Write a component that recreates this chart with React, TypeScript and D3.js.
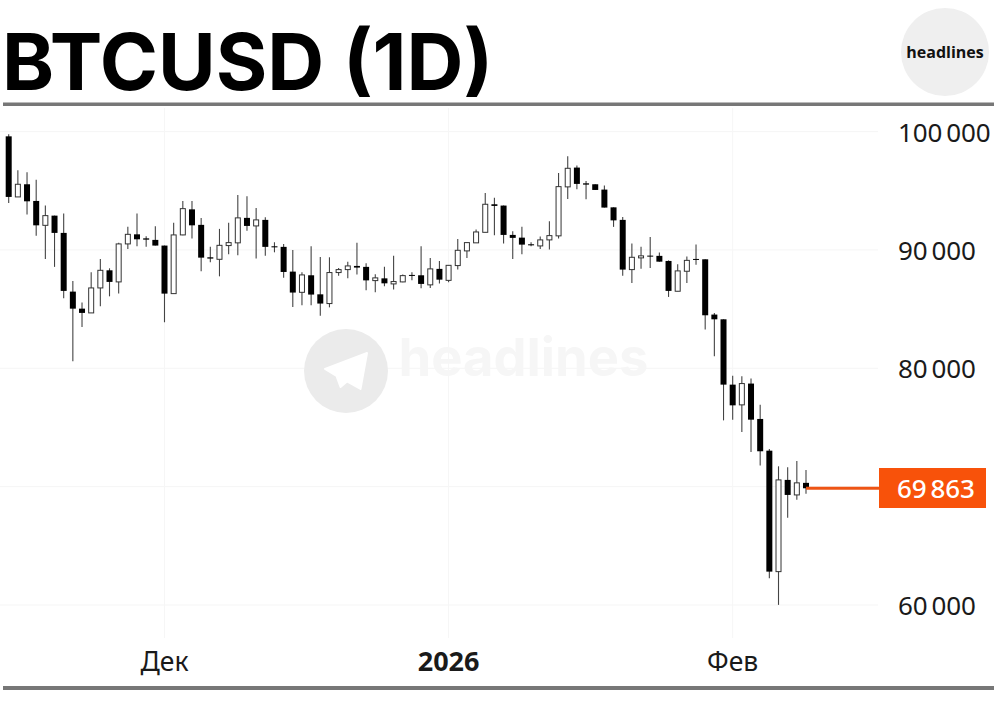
import * as d3 from 'd3';
import React, { useRef, useEffect } from 'react';

// Daily candles, first one is 14 Nov 2025, last one 9 Feb 2026
const opens = [99600,94480,95550,94140,92080,92900,91440,86480,85040,84680,86790,88280,87300,90510,91320,90980,90850,90370,86310,91270,93430,92120,89380,89210,90370,90600,92710,92030,92540,90310,90260,88170,86420,87860,86250,85470,88090,88340,88650,88570,87410,87600,87130,87300,87890,87860,87050,88400,87430,88680,89920,90600,91490,93860,93750,91270,91040,90480,90340,90850,91190,95330,96960,95630,95550,95100,93600,92540,88340,89330,89520,89500,89070,86510,88200,89240,89210,84540,84140,78620,76910,78710,75720,73040,62820,70570,69300,70320];
const closes = [94480,95550,94110,92080,92900,91440,86540,85040,84680,86790,88280,87300,90510,91320,90900,90870,90370,86310,91270,93490,92080,89350,89270,90390,90620,92710,92030,92540,90260,90220,88140,86400,87890,86230,85470,88090,88340,88650,88510,87430,87640,87180,87330,87830,87810,87130,88400,87490,88700,89970,90620,91520,93860,93720,91270,91020,90450,90390,90850,91210,95350,96900,95580,95520,95070,93580,92500,88340,89380,89500,89440,89010,86540,88230,89120,89160,84480,84140,78620,76870,78710,75660,72990,62820,70570,69300,70320,69863];
const highs = [99770,96730,96560,95940,93750,92900,93070,87380,85550,88110,89240,88450,90600,91950,93070,91150,92000,90370,92290,94140,94140,92710,90280,91780,92290,94650,94530,93550,92760,90650,90510,90000,88110,90310,89410,89380,88480,89010,90600,88870,87940,88570,89500,87920,88110,90310,89330,89070,88700,90930,90620,91720,94820,94420,93750,91580,91950,90650,91130,92420,96510,97910,97130,95830,95550,95440,93600,92790,90540,90280,91100,89780,89120,88790,89440,90450,89210,84680,84140,79380,79320,79130,76910,73190,71720,71630,72170,71410];
const lows = [93975,94480,92990,91190,89240,88570,85910,80590,83500,84680,85240,86080,86310,90090,90310,90260,90370,83890,86310,91240,90960,88200,88960,87770,89630,89550,91630,89270,89520,89800,87660,85190,85320,85320,84450,85150,87830,87600,87920,86590,86420,86930,86650,87270,87430,86760,86790,87160,87270,88340,89330,90600,91490,91240,90540,89240,89630,90310,90090,90030,90960,94310,95120,94280,95070,93580,91950,87830,87210,88420,88480,89010,86030,86510,87210,88760,83270,81010,75600,75660,74620,72930,71780,62250,60010,67380,68900,69390];

const priceTicks = [60000, 70000, 80000, 90000, 100000];
const priceLabels = [60000, 80000, 90000, 100000];
const monthTicks = [
  { index: 17, label: 'Дек', bold: false },
  { index: 48, label: '2026', bold: true },
  { index: 79, label: 'Фев', bold: false },
];
const lastPrice = 69863;

const WIDTH = 1000;
const HEIGHT = 713;
const FONT = '"Noto Sans", sans-serif';

export default function App() {
  const svgRef = useRef<SVGSVGElement | null>(null);

  useEffect(() => {
    if (!svgRef.current) return;
    const svg = d3.select(svgRef.current);
    svg.selectAll('*').remove();
    document.body.style.margin = '0';

    const x = d3.scaleLinear().domain([0, opens.length - 1]).range([8.7, 806]);
    const y = d3.scaleLinear().domain([60000, 100000]).range([605, 131.6]);
    const fmt = d3.formatLocale({ decimal: '.', thousands: '\u2009', grouping: [3], currency: ['', ''] }).format(',d');

    svg.append('rect').attr('width', WIDTH).attr('height', HEIGHT).attr('fill', '#fff');

    // grid
    svg.append('g').selectAll('line').data(priceTicks).enter().append('line')
      .attr('x1', 0).attr('x2', 878)
      .attr('y1', (d) => y(d)).attr('y2', (d) => y(d))
      .attr('stroke', '#f5f5f5').attr('stroke-width', 1);
    svg.append('g').selectAll('line').data(monthTicks).enter().append('line')
      .attr('x1', (d) => x(d.index)).attr('x2', (d) => x(d.index))
      .attr('y1', 108).attr('y2', 638)
      .attr('stroke', '#f6f6f6').attr('stroke-width', 1);

    // watermark
    const mark = svg.append('g').attr('transform', 'translate(346,371)');
    mark.append('circle').attr('r', 42).attr('fill', '#ebebeb');
    mark.append('path')
      .attr('d', 'M21,-18 L-21,-2 L-9.5,5 L-5.5,16 L1,10.5 L14.5,18 Z')
      .attr('fill', '#fff').attr('stroke', '#fff').attr('stroke-width', 2).attr('stroke-linejoin', 'round');
    svg.append('text').text('headlines')
      .attr('x', 398.5).attr('y', 376)
      .attr('font-family', 'Inter, sans-serif').attr('font-weight', 700).attr('font-size', 52.5)
      .attr('fill', '#f6f6f6');

    // candles
    const candles = svg.append('g').selectAll('g').data(d3.range(opens.length)).enter().append('g');
    candles.append('line')
      .attr('x1', (i) => x(i)).attr('x2', (i) => x(i))
      .attr('y1', (i) => y(highs[i])).attr('y2', (i) => y(lows[i]))
      .attr('stroke', '#444').attr('stroke-width', 1.1);
    candles.append('rect')
      .attr('x', (i) => x(i) - (closes[i] > opens[i] ? 2.5 : 3))
      .attr('width', (i) => (closes[i] > opens[i] ? 5 : 6))
      .attr('y', (i) => y(Math.max(opens[i], closes[i])))
      .attr('height', (i) => Math.max(1, Math.abs(y(opens[i]) - y(closes[i]))))
      .attr('fill', (i) => (closes[i] > opens[i] ? '#fff' : '#000'))
      .attr('stroke', (i) => (closes[i] > opens[i] ? '#333' : 'none'))
      .attr('stroke-width', 1);

    // price axis
    svg.append('g').selectAll('text').data(priceLabels).enter().append('text')
      .text((d) => fmt(d))
      .attr('x', 898).attr('y', (d) => y(d) + 10)
      .attr('font-family', FONT).attr('font-size', 26).attr('letter-spacing', -0.15).attr('fill', '#1a1a1a');

    // time axis
    svg.append('g').selectAll('text').data(monthTicks).enter().append('text')
      .text((d) => d.label)
      .attr('x', (d) => x(d.index)).attr('y', 671)
      .attr('text-anchor', 'middle')
      .attr('font-family', FONT).attr('font-size', (d) => (d.bold ? 27 : 26.5))
      .attr('font-weight', (d) => (d.bold ? 700 : 400)).attr('fill', '#1a1a1a');

    // last price
    svg.append('line')
      .attr('x1', x(opens.length - 1)).attr('x2', 880)
      .attr('y1', y(lastPrice)).attr('y2', y(lastPrice))
      .attr('stroke', '#ee5414').attr('stroke-width', 2.8);
    svg.append('rect')
      .attr('x', 879).attr('y', 468).attr('width', 107).attr('height', 40)
      .attr('fill', '#f8520a');
    svg.append('text').text(fmt(lastPrice))
      .attr('x', 897).attr('y', 498)
      .attr('font-family', FONT).attr('font-size', 26).attr('font-weight', 500).attr('letter-spacing', -0.15).attr('fill', '#fff');

    // header and rules
    svg.append('text').text('BTCUSD (1D)')
      .attr('x', 2).attr('y', 90)
      .attr('font-family', 'Inter, sans-serif').attr('font-weight', 700).attr('font-size', 78.8)
      .attr('fill', '#000');
    svg.append('circle').attr('cx', 945).attr('cy', 52).attr('r', 44).attr('fill', '#efefef');
    svg.append('text').text('headlines')
      .attr('x', 945).attr('y', 58)
      .attr('text-anchor', 'middle')
      .attr('font-family', '"Open Sans", sans-serif').attr('font-weight', 700).attr('font-size', 16)
      .attr('fill', '#111');
    svg.append('rect').attr('x', 3).attr('y', 102.5).attr('width', 991).attr('height', 3.5).attr('fill', '#777');
    svg.append('rect').attr('x', 3).attr('y', 686).attr('width', 991).attr('height', 4).attr('fill', '#777');
  }, []);

  return <svg ref={svgRef} width={WIDTH} height={HEIGHT} style={{ display: 'block' }} />;
}
